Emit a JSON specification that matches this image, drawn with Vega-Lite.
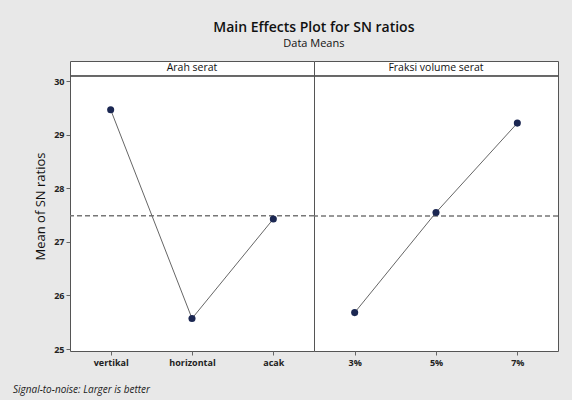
{
  "$schema": "https://vega.github.io/schema/vega-lite/v6.json",
  "background": "#e8e8e8",
  "padding": {"left": 12, "top": 20, "right": 15, "bottom": 4},
  "bounds": "flush",
  "title": {
    "text": "Main Effects Plot for SN ratios",
    "subtitle": "Data Means",
    "anchor": "middle",
    "frame": "bounds",
    "dx": 28,
    "font": "Open Sans",
    "fontSize": 14,
    "fontWeight": 600,
    "color": "#111",
    "subtitleFont": "Open Sans",
    "subtitleFontSize": 11,
    "subtitleColor": "#111",
    "subtitlePadding": 3,
    "offset": 12
  },
  "data": {
    "values": [
      {"factor": "Arah serat", "level": "vertikal", "sn": 29.47},
      {"factor": "Arah serat", "level": "horizontal", "sn": 25.57},
      {"factor": "Arah serat", "level": "acak", "sn": 27.43},
      {"factor": "Fraksi volume serat", "level": "3%", "sn": 25.68},
      {"factor": "Fraksi volume serat", "level": "5%", "sn": 27.55},
      {"factor": "Fraksi volume serat", "level": "7%", "sn": 29.22}
    ]
  },
  "facet": {
    "column": {
      "field": "factor",
      "type": "nominal",
      "sort": ["Arah serat", "Fraksi volume serat"],
      "header": null
    }
  },
  "spacing": 0,
  "resolve": {"scale": {"x": "independent"}},
  "spec": {
    "width": 244,
    "height": 290,
    "layer": [
      {
        "mark": {"type": "rule", "color": "#555", "strokeWidth": 1},
        "encoding": {
          "y": {"datum": 30.1, "type": "quantitative", "scale": {"domain": [24.963, 30.38], "nice": false, "zero": false}}
        }
      },
      {
        "transform": [{"aggregate": [{"op": "count", "as": "n"}], "groupby": ["factor"]}],
        "mark": {"type": "text", "font": "Open Sans", "fontSize": 10.5, "color": "#111", "baseline": "middle"},
        "encoding": {
          "y": {"datum": 30.24, "type": "quantitative"},
          "text": {"field": "factor", "type": "nominal"}
        }
      },
      {
        "transform": [
          {"filter": "datum.factor === 'Arah serat'"},
          {"aggregate": [{"op": "count", "as": "n"}], "groupby": ["factor"]},
          {"calculate": "'Signal-to-noise: Larger is better'", "as": "note"}
        ],
        "mark": {"type": "text", "font": "Open Sans", "fontSize": 10, "fontStyle": "italic", "color": "#222", "align": "left", "baseline": "alphabetic", "dx": -179},
        "encoding": {
          "y": {"datum": 24.18, "type": "quantitative"},
          "text": {"field": "note", "type": "nominal"}
        }
      },
      {
        "mark": {"type": "rule", "color": "#777", "strokeWidth": 1.5, "strokeDash": [5, 3]},
        "encoding": {"y": {"aggregate": "mean", "field": "sn", "type": "quantitative"}}
      },
      {
        "mark": {"type": "line", "color": "#666", "strokeWidth": 1},
        "encoding": {
          "x": {"field": "level", "type": "nominal", "sort": ["vertikal", "horizontal", "acak", "3%", "5%", "7%"], "scale": {"type": "point", "padding": 0.5}},
          "y": {"field": "sn", "type": "quantitative"}
        }
      },
      {
        "mark": {"type": "point", "filled": true, "color": "#1b2752", "size": 50, "opacity": 1},
        "encoding": {
          "x": {"field": "level", "type": "nominal", "sort": ["vertikal", "horizontal", "acak", "3%", "5%", "7%"], "scale": {"type": "point", "padding": 0.5},
            "axis": {"title": null, "domain": false, "ticks": true, "tickSize": 4, "tickColor": "#666", "labelAngle": 0, "labelAlign": "center", "labelBaseline": "top", "labelFont": "Open Sans", "labelFontSize": 9, "labelFontWeight": "bold", "labelColor": "#222", "labelPadding": 3}},
          "y": {"field": "sn", "type": "quantitative",
            "axis": {"title": "Mean of SN ratios", "values": [25, 26, 27, 28, 29, 30], "format": "d", "grid": false, "domain": false, "tickSize": 4, "tickColor": "#666", "labelFont": "Open Sans", "labelFontSize": 9, "labelFontWeight": "bold", "labelColor": "#222", "labelPadding": 2, "titleFont": "Open Sans", "titleFontSize": 13, "titleFontWeight": "normal", "titleColor": "#111", "titlePadding": 6}}
        }
      }
    ]
  },
  "config": {
    "view": {"stroke": "#555", "strokeWidth": 1, "fill": "white"}
  }
}
